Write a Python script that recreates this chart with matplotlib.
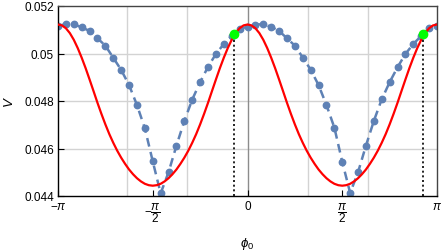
import numpy as np
import matplotlib
matplotlib.use("Agg")
import matplotlib.pyplot as plt

plt.rcParams['font.family'] = ['Liberation Sans', 'DejaVu Sans']
plt.rcParams['mathtext.fontset'] = 'custom'
plt.rcParams['mathtext.it'] = 'Liberation Sans:italic'
plt.rcParams['mathtext.rm'] = 'Liberation Sans'

# phase grid for the dots: -pi .. pi in steps of pi/24
phi = np.linspace(-np.pi, np.pi, 49)

# blue dots (simulation)
V_points = [0.05117, 0.05123, 0.05123, 0.05110, 0.05095, 0.05064, 0.05033, 0.04982,
            0.04931, 0.04867, 0.04783, 0.04685, 0.04546, 0.04411, 0.04500, 0.04612,
            0.04716, 0.04806, 0.04879, 0.04944, 0.04998, 0.05040, 0.05074, 0.05103,
            0.05113, 0.05122, 0.05123, 0.05112, 0.05095, 0.05064, 0.05033, 0.04983,
            0.04932, 0.04867, 0.04783, 0.04688, 0.04544, 0.04413, 0.04500, 0.04612,
            0.04716, 0.04807, 0.04879, 0.04942, 0.04998, 0.05040, 0.05074, 0.05106,
            0.05117]

# red curve (theory), sampled every pi/48
phi_fine = np.linspace(-np.pi, np.pi, 97)
V_curve = [0.051221, 0.051183, 0.051063, 0.050859, 0.050577, 0.050227, 0.049823, 0.049381,
           0.048905, 0.048417, 0.047924, 0.047457, 0.047015, 0.046606, 0.046240, 0.045907,
           0.045613, 0.045352, 0.045116, 0.044918, 0.044749, 0.044615, 0.044514, 0.044455,
           0.044434,
           0.044455, 0.044514, 0.044615, 0.044749, 0.044918, 0.045116, 0.045352, 0.045613,
           0.045907, 0.046240, 0.046606, 0.047015, 0.047457, 0.047924, 0.048417, 0.048905,
           0.049381, 0.049823, 0.050227, 0.050577, 0.050859, 0.051063, 0.051183, 0.051221,
           0.051183, 0.051063, 0.050859, 0.050577, 0.050227, 0.049823, 0.049381, 0.048905,
           0.048417, 0.047924, 0.047457, 0.047015, 0.046606, 0.046240, 0.045907, 0.045613,
           0.045352, 0.045116, 0.044918, 0.044749, 0.044615, 0.044514, 0.044455, 0.044434,
           0.044455, 0.044514, 0.044615, 0.044749, 0.044918, 0.045116, 0.045352, 0.045613,
           0.045907, 0.046240, 0.046606, 0.047015, 0.047457, 0.047924, 0.048417, 0.048905,
           0.049381, 0.049823, 0.050227, 0.050577, 0.050859, 0.051063, 0.051183, 0.051221]

# green markers (crossings)
cross_x = [-0.227, np.pi - 0.227]
cross_y = [0.05082, 0.05082]

xticks = [-np.pi, -np.pi / 2, 0, np.pi / 2, np.pi]
xtick_labels = [r'$-\pi$', r'$-\dfrac{\pi}{2}$', '0', r'$\dfrac{\pi}{2}$', r'$\pi$']
yticks = [0.044, 0.046, 0.048, 0.050, 0.052]
ytick_labels = ['0.044', '0.046', '0.048', '0.05', '0.052']

blue = '#5E81B5'

fig = plt.figure(figsize=(4.43, 2.51), dpi=100)
ax = fig.add_axes([58 / 443, 1 - 197 / 251, 379 / 443, 190 / 251])

# grid like Mathematica automatic gridlines
for gx in [-2, -1, 1, 2]:
    ax.axvline(gx, color='#d3d3d3', lw=1.0, zorder=0)
for gy in [0.046, 0.048, 0.050]:
    ax.axhline(gy, color='#d3d3d3', lw=1.0, zorder=0)
ax.axvline(0, color='#8c8c8c', lw=1.0, zorder=0.5)

ax.plot(phi, V_points, '--', color=blue, lw=1.8, dashes=(3.5, 2.2),
        marker='o', ms=4.6, mec=blue, mfc=blue, zorder=2)
ax.plot(phi_fine, V_curve, color='red', lw=1.6, zorder=3)

for cx, cy in zip(cross_x, cross_y):
    ax.plot([cx, cx], [0.044, cy], color='black', lw=1.2, ls=(0, (1.2, 1.6)), zorder=4)
ax.plot(cross_x, cross_y, 'o', color='#00ff00', ms=6, zorder=5)

ax.set_xlim(-np.pi, np.pi)
ax.set_ylim(0.044, 0.052)
ax.set_xticks(xticks)
ax.set_xticklabels(xtick_labels)
ax.set_yticks(yticks)
ax.set_yticklabels(ytick_labels)
ax.tick_params(direction='in', length=4, width=0.8, labelsize=8.5, pad=3)

for s in ['left', 'bottom']:
    ax.spines[s].set_linewidth(1.0)
    ax.spines[s].set_color('black')
for s in ['top', 'right']:
    ax.spines[s].set_linewidth(1.0)
    ax.spines[s].set_color('#444444')

ax.set_xlabel(r'$\phi_0$', fontsize=9.5, labelpad=8)
ax.set_ylabel(r'$V$', fontsize=9.5, labelpad=6)

fig.savefig('out.png', dpi=100)
